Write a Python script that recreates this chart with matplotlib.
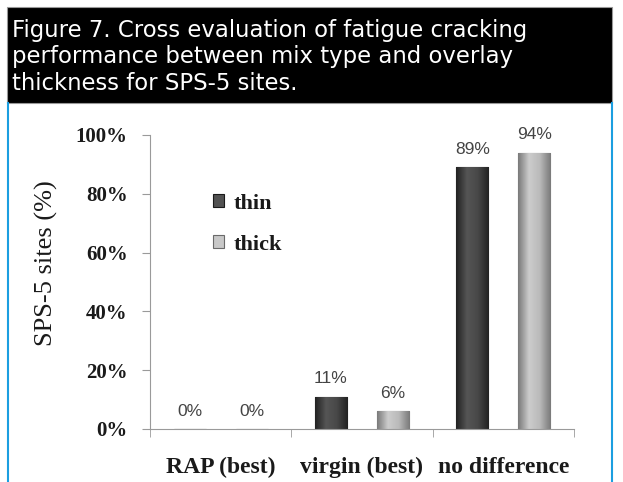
import numpy as np
import matplotlib
matplotlib.use("Agg")
import matplotlib.pyplot as plt
from matplotlib.patches import Rectangle
from matplotlib.colors import LinearSegmentedColormap

categories = ["RAP (best)", "virgin (best)", "no difference"]
thin = [0, 11, 89]
thick = [0, 6, 94]
series_names = ["thin", "thick"]
title_lines = ["Figure 7. Cross evaluation of fatigue cracking",
               "performance between mix type and overlay",
               "thickness for SPS-5 sites."]

serif = ["Liberation Serif", "DejaVu Serif"]
sans = ["DejaVu Sans"]

fig = plt.figure(figsize=(6.23, 4.82), dpi=100)

# header box and side borders
fig.patches.append(Rectangle((7 / 623, 1 - 103 / 482), 605 / 623, 96 / 482,
                             transform=fig.transFigure, facecolor="black",
                             edgecolor="#999999", lw=0.8))
for xp in (8, 612):
    fig.lines.append(plt.Line2D([xp / 623, xp / 623], [0, 1 - 103 / 482],
                                transform=fig.transFigure, color="#1b9ee0", lw=1.5))
for i, line in enumerate(title_lines):
    fig.text(12 / 623, 1 - (37 + 26.3 * i) / 482, line, color="white",
             fontsize=16.4, family=sans, va="baseline", ha="left")

ax = fig.add_axes([150 / 623, 1 - 429 / 482, 424 / 623, 294 / 482])

x = np.arange(len(categories))
w = 0.227
off = 0.22

cmap_dark = LinearSegmentedColormap.from_list("d", ["#222222", "#555555", "#484848", "#222222"])
cmap_light = LinearSegmentedColormap.from_list("l", ["#7a7a7a", "#cccccc", "#bababa", "#7a7a7a"])
grad = np.linspace(0, 1, 64).reshape(1, -1)

for vals, dx, cm, ec, name in [(thin, -off, cmap_dark, "#1a1a1a", "thin"),
                               (thick, off, cmap_light, "#6a6a6a", "thick")]:
    bars = ax.bar(x + dx, vals, width=w, color=cm(0.4), edgecolor=ec, lw=0.8,
                  label=name, zorder=2)
    for b, v in zip(bars, vals):
        if v > 0:
            im = ax.imshow(grad, cmap=cm, aspect="auto", zorder=2.5,
                           extent=[b.get_x(), b.get_x() + w, 0, v])
            im.set_clip_path(b)
        ax.text(b.get_x() + w / 2, v + 3.5, f"{v}%", ha="center", va="bottom",
                fontsize=12.5, color="#444444", family=["Liberation Sans", "DejaVu Sans"])

ax.set_xlim(-0.5, 2.5)
ax.set_ylim(0, 100)
ax.set_yticks(range(0, 101, 20))
ax.set_yticklabels([f"{t}%" for t in range(0, 101, 20)], family=serif,
                   fontsize=15, fontweight="bold", color="#1a1a1a")
ax.set_xticks(x)
ax.set_xticklabels(categories, family=serif, fontsize=17, fontweight="bold",
                   color="#1a1a1a")
ax.set_xticks([-0.5, 0.5, 1.5, 2.5], minor=True)
ax.tick_params(axis="x", which="major", length=0, pad=20)
ax.tick_params(axis="x", which="minor", length=6, color="#9a9a9a", direction="out")
ax.tick_params(axis="y", length=6, color="#9a9a9a", pad=10)
for s in ("top", "right"):
    ax.spines[s].set_visible(False)
for s in ("left", "bottom"):
    ax.spines[s].set_color("#9a9a9a")
ax.set_ylabel("SPS-5 sites (%)", family=serif, fontsize=19, color="#1a1a1a")
ax.yaxis.set_label_coords(-0.217, 0.565)

leg = ax.legend(loc="center left", bbox_to_anchor=(0.101, 0.697), frameon=False,
                prop={"family": serif, "size": 16, "weight": "bold"},
                handlelength=0.5, handleheight=0.5, handletextpad=0.45,
                labelspacing=0.95)
for t in leg.get_texts():
    t.set_color("#1a1a1a")

fig.savefig("out.png", dpi=100)
